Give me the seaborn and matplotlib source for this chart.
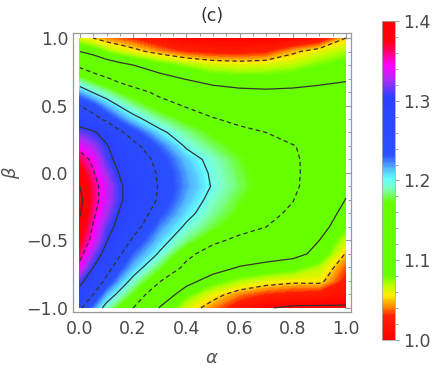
import numpy as np
import matplotlib
matplotlib.use("Agg")
import matplotlib.pyplot as plt
from matplotlib.colors import LinearSegmentedColormap, Normalize
from matplotlib.ticker import MultipleLocator, FuncFormatter
import seaborn as sns

# grid: alpha columns, beta rows (bottom -> top)
alpha = [0.0, 0.05, 0.1, 0.15, 0.2, 0.3, 0.4, 0.5, 0.6, 0.7, 0.8, 0.9, 1.0]
beta = [-1.0, -0.9, -0.8, -0.7, -0.6, -0.5, -0.4, -0.3, -0.2, -0.1, 0.0,
        0.1, 0.2, 0.3, 0.4, 0.5, 0.6, 0.7, 0.8, 0.9, 1.0]
ratio = [
    [1.255, 1.222, 1.190, 1.168, 1.150, 1.098, 1.062, 1.040, 1.020, 1.002, 0.995, 0.995, 0.996],
    [1.285, 1.250, 1.215, 1.193, 1.172, 1.125, 1.082, 1.058, 1.040, 1.030, 1.025, 1.022, 1.015],
    [1.310, 1.275, 1.243, 1.215, 1.193, 1.152, 1.112, 1.085, 1.070, 1.060, 1.055, 1.056, 1.025],
    [1.340, 1.300, 1.262, 1.235, 1.213, 1.177, 1.143, 1.115, 1.098, 1.092, 1.085, 1.068, 1.035],
    [1.360, 1.320, 1.288, 1.253, 1.228, 1.197, 1.158, 1.135, 1.122, 1.112, 1.108, 1.093, 1.048],
    [1.375, 1.340, 1.302, 1.272, 1.245, 1.210, 1.183, 1.157, 1.142, 1.130, 1.117, 1.100, 1.065],
    [1.390, 1.347, 1.312, 1.290, 1.262, 1.222, 1.196, 1.177, 1.162, 1.150, 1.135, 1.112, 1.080],
    [1.403, 1.356, 1.325, 1.297, 1.272, 1.235, 1.207, 1.186, 1.170, 1.158, 1.145, 1.120, 1.090],
    [1.410, 1.362, 1.333, 1.305, 1.283, 1.245, 1.215, 1.192, 1.175, 1.161, 1.151, 1.127, 1.099],
    [1.400, 1.362, 1.333, 1.305, 1.284, 1.247, 1.220, 1.198, 1.180, 1.166, 1.155, 1.135, 1.106],
    [1.385, 1.353, 1.322, 1.298, 1.280, 1.245, 1.218, 1.196, 1.178, 1.165, 1.154, 1.140, 1.122],
    [1.365, 1.343, 1.310, 1.290, 1.272, 1.240, 1.212, 1.192, 1.175, 1.163, 1.153, 1.142, 1.130],
    [1.340, 1.325, 1.303, 1.280, 1.258, 1.228, 1.197, 1.180, 1.168, 1.158, 1.151, 1.143, 1.135],
    [1.315, 1.305, 1.285, 1.255, 1.238, 1.206, 1.185, 1.170, 1.158, 1.150, 1.142, 1.136, 1.130],
    [1.280, 1.260, 1.243, 1.225, 1.208, 1.185, 1.168, 1.152, 1.142, 1.135, 1.130, 1.127, 1.125],
    [1.250, 1.235, 1.215, 1.198, 1.185, 1.163, 1.147, 1.135, 1.127, 1.122, 1.120, 1.120, 1.120],
    [1.215, 1.198, 1.185, 1.172, 1.162, 1.142, 1.125, 1.112, 1.106, 1.104, 1.105, 1.108, 1.110],
    [1.178, 1.165, 1.153, 1.140, 1.130, 1.110, 1.098, 1.088, 1.085, 1.085, 1.088, 1.092, 1.097],
    [1.143, 1.130, 1.118, 1.108, 1.100, 1.085, 1.072, 1.063, 1.060, 1.062, 1.068, 1.078, 1.085],
    [1.100, 1.090, 1.075, 1.065, 1.057, 1.042, 1.030, 1.025, 1.024, 1.028, 1.046, 1.060, 1.070],
    [1.060, 1.050, 1.040, 1.035, 1.030, 1.015, 1.005, 1.003, 1.002, 1.003, 1.005, 1.015, 1.050],
]
levels = [1.0, 1.05, 1.1, 1.15, 1.2, 1.25, 1.3, 1.35, 1.4]
cbar_ticks = [1.0, 1.1, 1.2, 1.3, 1.4]

sns.set_style("white")
plt.rcParams['font.family'] = ['DejaVu Sans']
plt.rcParams['lines.dashed_pattern'] = [3.5, 2.5]

# colour scale like the Mathematica one (red-yellow-green-cyan-blue-magenta-red)
stops = [(1.00, '#ff0000'), (1.03, '#ff2000'), (1.04, '#ff8000'), (1.055, '#ffee00'),
         (1.07, '#b0ff00'), (1.08, '#66ff00'), (1.172, '#66ff00'), (1.19, '#80ffc0'),
         (1.202, '#66ffff'), (1.215, '#55bbff'), (1.232, '#2a50ff'), (1.305, '#2a40ff'),
         (1.325, '#a030f0'), (1.345, '#ff00ff'), (1.36, '#ff0080'), (1.375, '#ff0010'),
         (1.40, '#ff0000')]
cmap = LinearSegmentedColormap.from_list(
    'mma', [(min(1.0, round((v - 1.0) / 0.4, 4)), c) for v, c in stops])
cmap.set_under('#ff0000')
cmap.set_over('#ff0000')
norm = Normalize(vmin=1.0, vmax=1.4)

A, B = np.meshgrid(alpha, beta)
Z = np.array(ratio)


def minus_fmt(v, pos):
    return f'{v:.1f}'.replace('-', '\u2212')


fig = plt.figure(figsize=(4.36, 3.71), dpi=100)
ax = fig.add_axes([0.1674, 0.159, 0.6376, 0.752])
cax = fig.add_axes([0.8761, 0.0836, 0.0298, 0.8598])

fill = ax.contourf(A, B, Z, levels=np.linspace(1.0, 1.4, 201), cmap=cmap,
                   norm=norm, extend='both', antialiased=False)
styles = ['solid' if i % 2 == 0 else 'dashed' for i in range(len(levels))]
ax.contour(A, B, Z, levels=levels, colors='#333333', linewidths=0.9,
           linestyles=styles)

ax.set_xlim(-0.026, 1.019)
ax.set_ylim(-1.03, 1.037)
ax.xaxis.set_major_locator(MultipleLocator(0.2))
ax.xaxis.set_minor_locator(MultipleLocator(0.05))
ax.xaxis.set_major_formatter(FuncFormatter(minus_fmt))
ax.yaxis.set_major_locator(MultipleLocator(0.5))
ax.yaxis.set_minor_locator(MultipleLocator(0.1))
ax.yaxis.set_major_formatter(FuncFormatter(minus_fmt))
ax.tick_params(which='both', direction='in', top=True, right=True,
               color='#999999', labelcolor='#4a4a4a', labelsize=12.5)
ax.tick_params(axis='x', which='both', pad=6)
ax.tick_params(axis='y', which='both', pad=3.5)
ax.tick_params(which='major', length=4, width=0.8)
ax.tick_params(which='minor', length=2.2, width=0.7)
for s in ax.spines.values():
    s.set_color('#999999')
    s.set_linewidth(0.9)
ax.set_xlabel(r'$\alpha$', fontsize=13, color='#555555', labelpad=8)
ax.set_ylabel(r'$\beta$', fontsize=13, color='#555555', labelpad=3)
ax.set_title('(c)', fontsize=12.5, color='#333333', pad=9)

cb = fig.colorbar(plt.cm.ScalarMappable(norm=norm, cmap=cmap), cax=cax,
                  ticks=cbar_ticks)
cb.outline.set_edgecolor('#aaaaaa')
cb.outline.set_linewidth(0.6)
cax.yaxis.set_minor_locator(MultipleLocator(0.02))
cax.yaxis.set_major_formatter(FuncFormatter(minus_fmt))
cax.tick_params(which='both', direction='out', color='#999999',
                labelcolor='#4a4a4a', labelsize=12.5, pad=3)
cax.tick_params(which='major', length=3, width=0.7)
cax.tick_params(which='minor', length=2, width=0.6)

fig.savefig('out.png', dpi=100)
